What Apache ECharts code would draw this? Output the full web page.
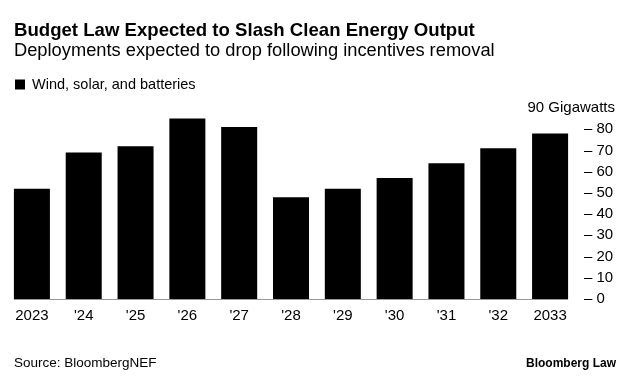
<!DOCTYPE html>
<html><head><meta charset="utf-8">
<script src="https://cdn.jsdelivr.net/npm/echarts@6/dist/echarts.min.js"></script>
<style>html,body{margin:0;padding:0;background:#fff}#c{width:633px;height:385px}</style>
</head><body><div id="c"></div>
<script>
const categories = ['2023', "'24", "'25", "'26", "'27", "'28", "'29", "'30", "'31", "'32", '2033'];
const windSolarBatteries = [52, 69, 72, 85, 81, 48, 52, 57, 64, 71, 78];
const yTicks = [0, 10, 20, 30, 40, 50, 60, 70, 80, 90];
const yUnit = 'Gigawatts';
const FONT = '"Liberation Sans", Arial, sans-serif';

const chart = echarts.init(document.getElementById('c'), null, {renderer: 'canvas'});
const yMax = yTicks[yTicks.length - 1];
chart.setOption({
  animation: false,
  textStyle: {fontFamily: FONT},
  grid: {left: 6, right: 57, top: 108, bottom: 86},
  xAxis: {
    type: 'category', data: categories,
    axisLine: {show: false}, axisTick: {show: false},
    axisLabel: {color: '#000', fontSize: 15, margin: 9, fontFamily: FONT}
  },
  yAxis: {
    type: 'value', position: 'right', min: yTicks[0], max: yMax, interval: yTicks[1] - yTicks[0],
    splitLine: {show: false}, axisLine: {show: false}, axisTick: {show: false},
    axisLabel: {color: '#000', fontSize: 15, margin: 8, fontFamily: FONT, showMaxLabel: false,
      formatter: v => v === yMax ? '' : '\u2013 ' + v}
  },
  series: [{
    name: 'Wind, solar, and batteries', type: 'bar', data: windSolarBatteries,
    barWidth: '69.5%', itemStyle: {color: '#000'}
  }],
  title: [
    {text: 'Budget Law Expected to Slash Clean Energy Output', left: 14, top: 21, padding: 0,
      textStyle: {fontSize: 18.6, fontWeight: 'bold', color: '#000', fontFamily: FONT}},
    {text: 'Deployments expected to drop following incentives removal', left: 14, top: 42, padding: 0,
      textStyle: {fontSize: 18.3, fontWeight: 'normal', color: '#000', fontFamily: FONT}},
    {text: 'Source: BloombergNEF', left: 14, top: 356, padding: 0,
      textStyle: {fontSize: 13.5, fontWeight: 'normal', color: '#000', fontFamily: FONT}},
    {text: 'Bloomberg Law', right: 17, top: 358, padding: 0,
      textStyle: {fontSize: 12, fontWeight: 'bold', color: '#000', fontFamily: FONT}}
  ],
  legend: {
    left: 15, top: 77, padding: 0, icon: 'rect', itemWidth: 10, itemHeight: 10, itemGap: 5,
    textStyle: {fontSize: 14.5, color: '#000', fontFamily: FONT, padding: [0, 0, 0, 2]},
    data: ['Wind, solar, and batteries']
  }
});

// baseline spanning the bars, and the top unit label, positioned via the chart's scales
const x0 = chart.convertToPixel({xAxisIndex: 0}, 0);
const x1 = chart.convertToPixel({xAxisIndex: 0}, categories.length - 1);
const half = (x1 - x0) / (categories.length - 1) * 0.695 / 2;
const yb = chart.convertToPixel({yAxisIndex: 0}, 0);
const yt = chart.convertToPixel({yAxisIndex: 0}, yMax);
chart.setOption({
  graphic: [
    {type: 'line', shape: {x1: x0 - half, y1: yb + 0.5, x2: x1 + half, y2: yb + 0.5},
      style: {stroke: '#999', lineWidth: 1}, z: 10},
    {type: 'text', x: 615, y: yt, style: {text: yMax + ' ' + yUnit, font: '15px ' + FONT,
      fill: '#000', textAlign: 'right', textVerticalAlign: 'middle'}}
  ]
});
</script></body></html>
